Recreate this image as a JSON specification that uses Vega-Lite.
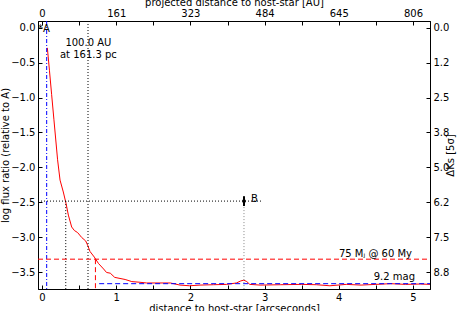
{
  "$schema": "https://vega.github.io/schema/vega-lite/v6.json",
  "width": 392,
  "height": 268,
  "autosize": "none",
  "padding": {"left": 38, "top": 21, "right": 28, "bottom": 22},
  "config": {
    "font": "DejaVu Sans",
    "view": {"stroke": "black", "strokeWidth": 1},
    "axis": {
      "labelFont": "DejaVu Sans", "titleFont": "DejaVu Sans",
      "labelFontSize": 10, "titleFontSize": 10, "titleFontWeight": "normal",
      "labelColor": "black", "titleColor": "black", "tickColor": "black", "domainColor": "black",
      "tickSize": -4, "labelPadding": 7, "grid": false, "labelOverlap": false, "labelFlush": false
    },
    "text": {"font": "DejaVu Sans", "fontSize": 10, "color": "black"}
  },
  "resolve": {"axis": {"x": "independent", "y": "independent"}},
  "layer": [
    {
      "data": {"values": [
        {"x": 0.072, "y": -0.29}, {"x": 0.10, "y": -0.61}, {"x": 0.13, "y": -0.96}, {"x": 0.16, "y": -1.31},
        {"x": 0.198, "y": -1.75}, {"x": 0.21, "y": -1.89}, {"x": 0.243, "y": -2.18}, {"x": 0.287, "y": -2.35},
        {"x": 0.323, "y": -2.51}, {"x": 0.355, "y": -2.68}, {"x": 0.40, "y": -2.85}, {"x": 0.436, "y": -2.90},
        {"x": 0.48, "y": -2.93}, {"x": 0.535, "y": -3.0}, {"x": 0.589, "y": -3.05}, {"x": 0.615, "y": -3.11},
        {"x": 0.647, "y": -3.20}, {"x": 0.705, "y": -3.28}, {"x": 0.76, "y": -3.37}, {"x": 0.83, "y": -3.45},
        {"x": 0.87, "y": -3.50}, {"x": 0.92, "y": -3.51}, {"x": 0.98, "y": -3.57}, {"x": 1.12, "y": -3.60},
        {"x": 1.21, "y": -3.63}, {"x": 1.32, "y": -3.64}, {"x": 1.41, "y": -3.65}, {"x": 1.59, "y": -3.65},
        {"x": 1.73, "y": -3.65}, {"x": 1.86, "y": -3.68}, {"x": 1.99, "y": -3.69}, {"x": 2.13, "y": -3.68},
        {"x": 2.31, "y": -3.675}, {"x": 2.49, "y": -3.67}, {"x": 2.62, "y": -3.65}, {"x": 2.68, "y": -3.62},
        {"x": 2.72, "y": -3.61}, {"x": 2.76, "y": -3.63}, {"x": 2.80, "y": -3.67}, {"x": 2.94, "y": -3.68},
        {"x": 3.21, "y": -3.675}, {"x": 3.5, "y": -3.67}, {"x": 3.7, "y": -3.675}, {"x": 3.88, "y": -3.69},
        {"x": 4.1, "y": -3.67}, {"x": 4.3, "y": -3.68}, {"x": 4.5, "y": -3.67}, {"x": 4.7, "y": -3.66},
        {"x": 4.9, "y": -3.67}, {"x": 5.1, "y": -3.665}, {"x": 5.229, "y": -3.67}
      ]},
      "mark": {"type": "line", "color": "#ff0000", "strokeWidth": 1},
      "encoding": {
        "x": {"field": "x", "type": "quantitative", "scale": {"domain": [-0.054, 5.229], "nice": false, "zero": false},
          "axis": {"orient": "bottom", "title": "distance to host-star [arcseconds]", "values": [0, 0.5, 1, 1.5, 2, 2.5, 3, 3.5, 4, 4.5, 5],
            "labelExpr": "datum.value % 1 == 0 ? format(datum.value, 'd') : ''", "titlePadding": 1}},
        "y": {"field": "y", "type": "quantitative", "scale": {"domain": [-3.736, 0.093], "nice": false, "zero": false},
          "axis": {"orient": "left", "title": "log flux ratio (relative to A)", "values": [0, -0.5, -1, -1.5, -2, -2.5, -3, -3.5], "format": ".1f", "titlePadding": 0}}
      }
    },
    {
      "data": {"values": [{"x": -0.054, "y": 0.093}]},
      "mark": {"type": "point", "opacity": 0},
      "encoding": {
        "x": {"field": "x", "type": "quantitative", "scale": {"domain": [-0.054, 5.229], "nice": false, "zero": false},
          "axis": {"orient": "top", "title": "projected distance to host-star [AU]", "values": [0, 0.5, 1, 1.5, 2, 2.5, 3, 3.5, 4, 4.5, 5],
            "labelExpr": "datum.value % 1 != 0 ? '' : datum.value == 5 ? '806' : format(datum.value * 161.3, '.0f')", "titlePadding": 1}},
        "y": {"field": "y", "type": "quantitative", "scale": {"domain": [-3.736, 0.093], "nice": false, "zero": false},
          "axis": {"orient": "right", "title": "ΔKs [5σ]", "titleAngle": -90, "values": [0, -0.5, -1, -1.5, -2, -2.5, -3, -3.5],
            "labelExpr": "datum.value == -0.5 ? '1.2' : datum.value == -2.5 ? '6.2' : format(-2.5 * datum.value, '.1f')", "titlePadding": 7}}
      }
    },
    {
      "data": {"values": [{"x": 0.063, "x2": 0.063, "y": 0.093, "y2": -3.736}]},
      "mark": {"type": "rule", "color": "#0000ff", "strokeWidth": 1, "strokeDash": [4, 2, 1, 2]},
      "encoding": {
        "x": {"field": "x", "type": "quantitative", "scale": {"domain": [-0.054, 5.229], "nice": false, "zero": false}, "axis": null},
        "x2": {"field": "x2"},
        "y": {"field": "y", "type": "quantitative", "scale": {"domain": [-3.736, 0.093], "nice": false, "zero": false}, "axis": null},
        "y2": {"field": "y2"}
      }
    },
    {
      "data": {"values": [
        {"x": 0.62, "x2": 0.62, "y": 0.093, "y2": -3.736},
        {"x": 0.32, "x2": 0.32, "y": -2.48, "y2": -3.736},
        {"x": -0.054, "x2": 2.96, "y": -2.48, "y2": -2.48}
      ]},
      "mark": {"type": "rule", "color": "black", "strokeWidth": 1, "strokeDash": [1, 2]},
      "encoding": {
        "x": {"field": "x", "type": "quantitative", "scale": {"domain": [-0.054, 5.229], "nice": false, "zero": false}, "axis": null},
        "x2": {"field": "x2"},
        "y": {"field": "y", "type": "quantitative", "scale": {"domain": [-3.736, 0.093], "nice": false, "zero": false}, "axis": null},
        "y2": {"field": "y2"}
      }
    },
    {
      "data": {"values": [{"x": 2.722, "x2": 2.722, "y": -2.48, "y2": -3.736}]},
      "mark": {"type": "rule", "color": "#888888", "strokeWidth": 1, "strokeDash": [1, 2]},
      "encoding": {
        "x": {"field": "x", "type": "quantitative", "scale": {"domain": [-0.054, 5.229], "nice": false, "zero": false}, "axis": null},
        "x2": {"field": "x2"},
        "y": {"field": "y", "type": "quantitative", "scale": {"domain": [-3.736, 0.093], "nice": false, "zero": false}, "axis": null},
        "y2": {"field": "y2"}
      }
    },
    {
      "data": {"values": [
        {"x": -0.054, "x2": 5.229, "y": -3.31, "y2": -3.31},
        {"x": 0.72, "x2": 0.72, "y": -3.31, "y2": -3.736}
      ]},
      "mark": {"type": "rule", "color": "#ff0000", "strokeWidth": 1, "strokeDash": [5, 3]},
      "encoding": {
        "x": {"field": "x", "type": "quantitative", "scale": {"domain": [-0.054, 5.229], "nice": false, "zero": false}, "axis": null},
        "x2": {"field": "x2"},
        "y": {"field": "y", "type": "quantitative", "scale": {"domain": [-3.736, 0.093], "nice": false, "zero": false}, "axis": null},
        "y2": {"field": "y2"}
      }
    },
    {
      "data": {"values": [{"x": 0.77, "x2": 5.229, "y": -3.66, "y2": -3.66}]},
      "mark": {"type": "rule", "color": "#0000ff", "strokeWidth": 1, "strokeDash": [5, 3]},
      "encoding": {
        "x": {"field": "x", "type": "quantitative", "scale": {"domain": [-0.054, 5.229], "nice": false, "zero": false}, "axis": null},
        "x2": {"field": "x2"},
        "y": {"field": "y", "type": "quantitative", "scale": {"domain": [-3.736, 0.093], "nice": false, "zero": false}, "axis": null},
        "y2": {"field": "y2"}
      }
    },
    {
      "data": {"values": [{"x": 2.722, "y": -2.41, "y2": -2.55}]},
      "mark": {"type": "rule", "color": "black", "strokeWidth": 2},
      "encoding": {
        "x": {"field": "x", "type": "quantitative", "scale": {"domain": [-0.054, 5.229], "nice": false, "zero": false}, "axis": null},
        "y": {"field": "y", "type": "quantitative", "scale": {"domain": [-3.736, 0.093], "nice": false, "zero": false}, "axis": null},
        "y2": {"field": "y2"}
      }
    },
    {
      "data": {"values": [{"x": 2.722, "y": -2.48}]},
      "mark": {"type": "point", "filled": true, "color": "black", "size": 14, "opacity": 1},
      "encoding": {
        "x": {"field": "x", "type": "quantitative", "scale": {"domain": [-0.054, 5.229], "nice": false, "zero": false}, "axis": null},
        "y": {"field": "y", "type": "quantitative", "scale": {"domain": [-3.736, 0.093], "nice": false, "zero": false}, "axis": null}
      }
    },
    {
      "data": {"values": [
        {"x": -0.054, "y": -0.069, "label": "*A"},
        {"x": 2.817, "y": -2.497, "label": "B"}
      ]},
      "mark": {"type": "text", "align": "left", "baseline": "alphabetic"},
      "encoding": {
        "x": {"field": "x", "type": "quantitative", "scale": {"domain": [-0.054, 5.229], "nice": false, "zero": false}, "axis": null},
        "y": {"field": "y", "type": "quantitative", "scale": {"domain": [-3.736, 0.093], "nice": false, "zero": false}, "axis": null},
        "text": {"field": "label"}
      }
    },
    {
      "data": {"values": [
        {"x": 0.625, "y": -0.271, "label": "100.0 AU"},
        {"x": 0.625, "y": -0.43, "label": "at 161.3 pc"}
      ]},
      "mark": {"type": "text", "align": "center", "baseline": "alphabetic"},
      "encoding": {
        "x": {"field": "x", "type": "quantitative", "scale": {"domain": [-0.054, 5.229], "nice": false, "zero": false}, "axis": null},
        "y": {"field": "y", "type": "quantitative", "scale": {"domain": [-3.736, 0.093], "nice": false, "zero": false}, "axis": null},
        "text": {"field": "label"}
      }
    },
    {
      "data": {"values": [
        {"x": 4.987, "y": -3.274, "label": "75 Mⱼ @ 60 My"},
        {"x": 5.027, "y": -3.614, "label": "9.2 mag"}
      ]},
      "mark": {"type": "text", "align": "right", "baseline": "alphabetic"},
      "encoding": {
        "x": {"field": "x", "type": "quantitative", "scale": {"domain": [-0.054, 5.229], "nice": false, "zero": false}, "axis": null},
        "y": {"field": "y", "type": "quantitative", "scale": {"domain": [-3.736, 0.093], "nice": false, "zero": false}, "axis": null},
        "text": {"field": "label"}
      }
    }
  ]
}
